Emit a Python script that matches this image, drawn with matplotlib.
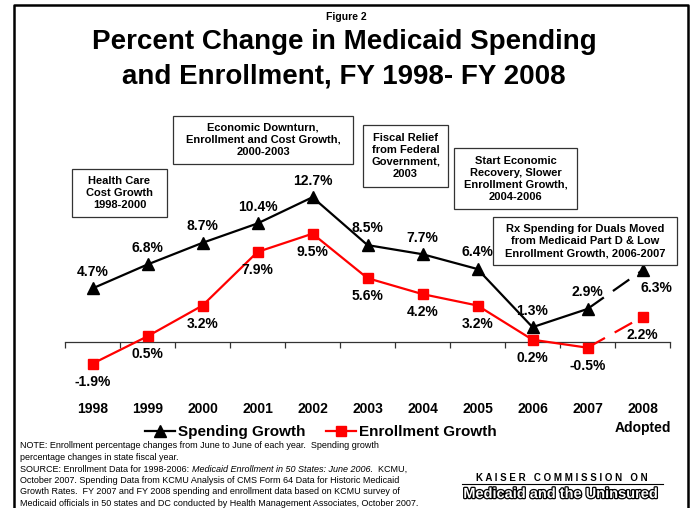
import matplotlib
matplotlib.use("Agg")
import matplotlib.pyplot as plt
from matplotlib.lines import Line2D
from matplotlib.patches import Rectangle
from matplotlib import font_manager as fm
import matplotlib.patheffects as pe

years = ['1998', '1999', '2000', '2001', '2002', '2003', '2004', '2005', '2006', '2007', '2008\nAdopted']
spending = [4.7, 6.8, 8.7, 10.4, 12.7, 8.5, 7.7, 6.4, 1.3, 2.9, 6.3]
enrollment = [-1.9, 0.5, 3.2, 7.9, 9.5, 5.6, 4.2, 3.2, 0.2, -0.5, 2.2]

# annotation boxes: text, left, top, right, bottom (pixels)
boxes = [
    ("Health Care\nCost Growth\n1998-2000", 72, 169, 167, 217),
    ("Economic Downturn,\nEnrollment and Cost Growth,\n2000-2003", 173, 116, 353, 164),
    ("Fiscal Relief\nfrom Federal\nGovernment,\n2003", 363, 125, 448, 187),
    ("Start Economic\nRecovery, Slower\nEnrollment Growth,\n2004-2006", 454, 148, 577, 209),
    ("Rx Spending for Duals Moved\nfrom Medicaid Part D & Low\nEnrollment Growth, 2006-2007", 493, 217, 677, 265),
]

W, H = 693, 508
plt.rcParams['font.family'] = ['Liberation Sans', 'DejaVu Sans']


def px(x, y):
    return x / W, 1 - y / H


fig = plt.figure(figsize=(W / 100, H / 100), dpi=100)
ax = fig.add_axes([65 / W, (H - 376.2) / H, 605 / W, 216.6 / H])
x = list(range(len(years)))

# solid part + dashed last segment
ax.plot(x[:-1], spending[:-1], color='black', lw=1.6, marker='^', ms=8, zorder=3)
ax.plot(x[-2:], spending[-2:], color='black', lw=1.6, dashes=(9, 5), zorder=3)
ax.plot(x[-1], spending[-1], color='black', marker='^', ms=8, ls='none', zorder=3)
ax.plot(x[:-1], enrollment[:-1], color='#ff0000', lw=1.6, marker='s', ms=7.5, zorder=3)
ax.plot(x[-2:], enrollment[-2:], color='#ff0000', lw=1.6, dashes=(9, 5), zorder=3)
ax.plot(x[-1], enrollment[-1], color='#ff0000', marker='s', ms=7.5, ls='none', zorder=3)

for i, v in enumerate(spending):
    if i == len(spending) - 1:
        off = (10, -13)
    else:
        off = (0, 12)
    ax.annotate('%.1f%%' % v, (i, v), xytext=off, textcoords='offset points',
                ha='center', va='center', fontsize=10, fontweight='bold', annotation_clip=False)
for i, v in enumerate(enrollment):
    ax.annotate('%.1f%%' % v, (i, v), xytext=(0, -13), textcoords='offset points',
                ha='center', va='center', fontsize=10, fontweight='bold', annotation_clip=False)

ax.set_xlim(-0.5, 10.5)
ax.set_ylim(-3, 16)
for s in ['left', 'right', 'top']:
    ax.spines[s].set_visible(False)
ax.spines['bottom'].set_position(('data', 0))
ax.spines['bottom'].set_color('#333333')
ax.spines['bottom'].set_linewidth(0.9)
ax.set_yticks([])
ax.set_xticks([i - 0.5 for i in range(len(years) + 1)], minor=True)
ax.set_xticks(x)
ax.set_xticklabels(years, fontsize=10, fontweight='bold', linespacing=1.5)
ax.tick_params(axis='x', which='major', length=0, pad=43)
ax.tick_params(axis='x', which='minor', length=4, direction='out', color='#333333', width=0.9)
ax.patch.set_visible(False)

for txt, x0, y0, x1, y1 in boxes:
    fig.add_artist(Rectangle((x0 / W, 1 - y1 / H), (x1 - x0) / W, (y1 - y0) / H,
                             transform=fig.transFigure, fc='white', ec='#333333', lw=0.9))
    fig.text(*px((x0 + x1) / 2, (y0 + y1) / 2), txt, ha='center', va='center', fontsize=8,
             fontweight='bold', linespacing=1.25)

# titles
fig.text(*px(346, 17), 'Figure 2', ha='center', va='center', fontsize=7.5, fontweight='bold')
fig.text(*px(344, 42), 'Percent Change in Medicaid Spending', ha='center', va='center',
         fontsize=20, fontweight='bold')
fig.text(*px(344, 76), 'and Enrollment, FY 1998- FY 2008', ha='center', va='center',
         fontsize=20, fontweight='bold')

# legend
handles = [Line2D([], [], color='black', lw=1.6, marker='^', ms=8, label='Spending Growth'),
           Line2D([], [], color='#ff0000', lw=1.6, marker='s', ms=7.5, label='Enrollment Growth')]
fig.legend(handles=handles, loc='center', bbox_to_anchor=px(321, 432), ncol=2, frameon=False,
           prop={'weight': 'bold', 'size': 11}, handlelength=2, columnspacing=1.3,
           handletextpad=0.2)

# notes
names = {f.name for f in fm.fontManager.ttflist}
if 'Liberation Sans Narrow' in names:
    nfont, nsize = 'Liberation Sans Narrow', 7.8
else:
    nfont, nsize = 'Liberation Sans', 6.5
note_lines = [
    "NOTE: Enrollment percentage changes from June to June of each year.  Spending growth",
    "percentage changes in state fiscal year.",
    None,
    "October 2007. Spending Data from KCMU Analysis of CMS Form 64 Data for Historic Medicaid",
    "Growth Rates.  FY 2007 and FY 2008 spending and enrollment data based on KCMU survey of",
    "Medicaid officials in 50 states and DC conducted by Health Management Associates, October 2007.",
]
ys = [446, 457.5, 469, 480.5, 492, 503]
for line, y in zip(note_lines, ys):
    if line is not None:
        fig.text(*px(20, y), line, ha='left', va='center', fontsize=nsize, family=nfont)

renderer = fig.canvas.get_renderer()
xpos = 20
for part, style in [("SOURCE: Enrollment Data for 1998-2006: ", 'normal'),
                    ("Medicaid Enrollment in 50 States: June 2006.", 'italic'),
                    ("  KCMU,", 'normal')]:
    t = fig.text(*px(xpos, ys[2]), part, ha='left', va='center', fontsize=nsize,
                 family=nfont, style=style)
    bb = t.get_window_extent(renderer)
    xpos += bb.width

# logo
fig.text(*px(562, 478), 'K A I S E R   C O M M I S S I O N   O N', ha='center', va='center',
         fontsize=7, fontweight='bold')
fig.add_artist(Line2D([462 / W, 663 / W], [1 - 484 / H, 1 - 484 / H], color='black', lw=0.8))
fig.text(*px(561, 494), 'Medicaid and the Uninsured', ha='center', va='center',
         fontsize=10.5, fontweight='bold', color='white',
         path_effects=[pe.withStroke(linewidth=1.8, foreground='black')])

# outer border
fig.add_artist(Line2D([14 / W, 14 / W, 688 / W, 688 / W], [0, 1 - 5 / H, 1 - 5 / H, 0],
                      color='black', lw=1.8))

fig.savefig('out.png', dpi=100)
